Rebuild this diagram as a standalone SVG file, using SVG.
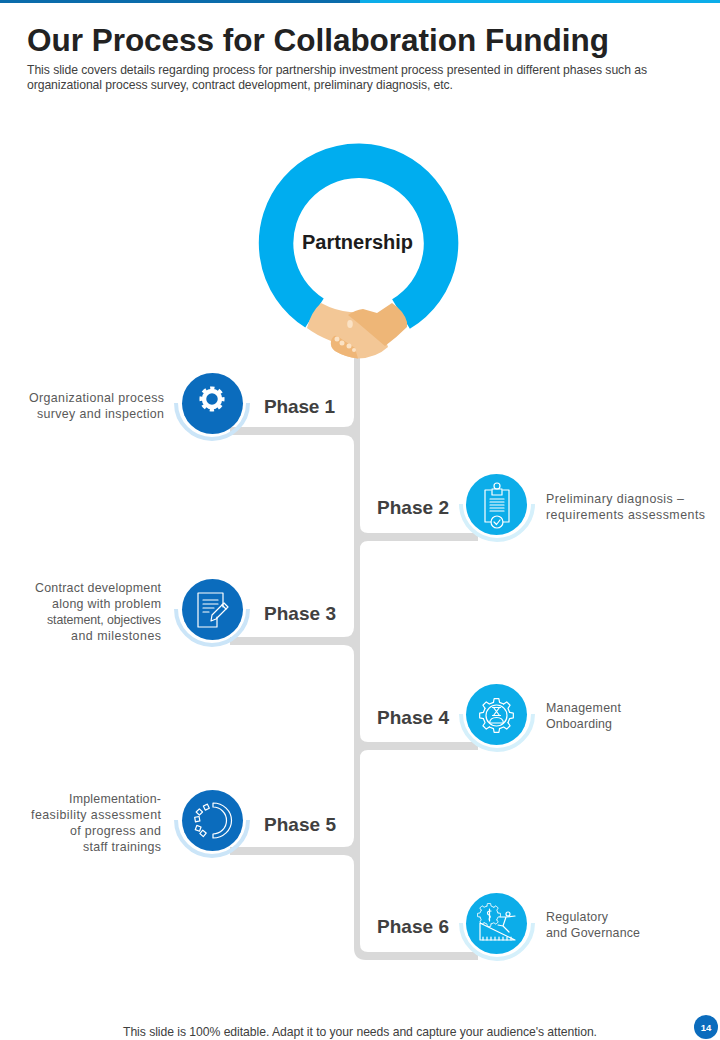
<svg xmlns="http://www.w3.org/2000/svg" width="720" height="1040" viewBox="0 0 720 1040">
<style>
text{font-family:"Liberation Sans",Arial,sans-serif}
.title{font-size:31.5px;font-weight:700;fill:#222}
.sub{font-size:12.2px;fill:#404040}
.ph{font-size:19px;font-weight:700;fill:#404040}
.d{font-size:12.400px;fill:#595959}
.conn{fill:#d9d9d9}
.arcL{fill:none;stroke:#cbe5f8;stroke-width:4}
.arcR{fill:none;stroke:#d5f0fb;stroke-width:4}
.dk{fill:#0b6cbd}
.lt{fill:#0cade9}
.ic{fill:none;stroke:#fff;stroke-width:1.2;stroke-linejoin:round;stroke-linecap:round}
</style>
<defs>
<path id="tooth" d="M-3.040 -13.150L-2.370 -16.830L2.370 -16.830L3.040 -13.150L7.150 -11.450"/>
<g id="gear">
<use href="#tooth"/>
<use href="#tooth" transform="rotate(45)"/>
<use href="#tooth" transform="rotate(90)"/>
<use href="#tooth" transform="rotate(135)"/>
<use href="#tooth" transform="rotate(180)"/>
<use href="#tooth" transform="rotate(225)"/>
<use href="#tooth" transform="rotate(270)"/>
<use href="#tooth" transform="rotate(315)"/>
</g>
</defs>
<rect x="0" y="0" width="360" height="3" fill="#0b6cab"/>
<rect x="360" y="0" width="360" height="3" fill="#0cade9"/>
<text class="title" x="27" y="51" textLength="582" lengthAdjust="spacing">Our Process for Collaboration Funding</text>
<text class="sub" x="27" y="74" textLength="620" lengthAdjust="spacing">This slide covers details regarding process for partnership investment process presented in different phases such as</text>
<text class="sub" x="27" y="89" textLength="426" lengthAdjust="spacing">organizational process survey, contract development, preliminary diagnosis, etc.</text>

<g id="connectors">
<path class="conn" d="M354 350H360V944Q360 952 368 952H478V960H366Q354 960 354 948Z"/>
<path class="conn" d="M230 427H344Q354 427 354 417V445Q354 435 344 435H230Z"/>
<path class="conn" d="M230 637H344Q354 637 354 627V655Q354 645 344 645H230Z"/>
<path class="conn" d="M230 847H344Q354 847 354 837V865Q354 855 344 855H230Z"/>
<path class="conn" d="M478 533H368Q360 533 360 525V549Q360 541 368 541H478Z"/>
<path class="conn" d="M478 742H368Q360 742 360 734V758Q360 750 368 750H478Z"/>
</g>

<g id="partnership">
<path d="M314.500 313A82.500 82.500 0 1 1 401 314" fill="none" stroke="#00adef" stroke-width="34.500"/>
<path d="M307 328Q311 312 321 303Q336 311 350 312L377 314L388 347Q376 358 358 358.500Q345 357 335 351Q330 347 331 341Q316 335 307 328Z" fill="#f3c796"/>
<path d="M392 303Q404 311 407 322V327Q396 338 385 346L358 323L348 315Q355 310 363 309L377 313Z" fill="#eeb677"/>
<path d="M331 341Q333 335 337 336L355 348L358 358.500Q345 357 335 351Q330 347 331 341Z" fill="#efb677"/>
<ellipse cx="350" cy="324" rx="2.800" ry="4" fill="#fbe2c4"/>
<circle cx="337" cy="339" r="2.500" fill="#fbe2c4"/>
<circle cx="342" cy="343" r="2.500" fill="#fbe2c4"/>
<circle cx="349" cy="346" r="2.500" fill="#fbe2c4"/>
<circle cx="354" cy="350" r="2" fill="#fbe2c4"/>
<text x="357.500" y="249" font-size="20" font-weight="700" fill="#1c1c1c" text-anchor="middle">Partnership</text>
</g>

<g id="phase1">
<path class="arcL" d="M176 403A36 36 0 0 0 248 403"/>
<circle class="dk" cx="212.500" cy="403.500" r="30.500"/>
<circle cx="212" cy="399" r="8" fill="none" stroke="#fff" stroke-width="4.500"/>
<circle cx="212" cy="399" r="10.800" fill="none" stroke="#fff" stroke-width="3.500" stroke-dasharray="4.240 4.240" stroke-dashoffset="2.120"/>
<text class="ph" x="264" y="413" textLength="71">Phase 1</text>
<text class="d" x="29" y="402" textLength="135">Organizational process</text>
<text class="d" x="37" y="418" textLength="127">survey  and inspection</text>
</g>

<g id="phase2">
<path class="arcR" d="M461 504A36 36 0 0 0 533 504"/>
<circle class="lt" cx="496.500" cy="504.500" r="30.500"/>
<g class="ic">
<path d="M491 490H485V522H491M503 490H509V522H503"/>
<rect x="492" y="489" width="10" height="6"/>
<circle cx="497" cy="486" r="3"/>
<path d="M490 499H504M490 502H504M490 505H504M490 508H504M490 511H504"/>
<circle cx="497" cy="522" r="6"/>
<path d="M494 522L496.500 524.500L500 520"/>
</g>
<text class="ph" x="377" y="514" textLength="72">Phase 2</text>
<text class="d" x="546" y="503" textLength="138">Preliminary diagnosis –</text>
<text class="d" x="546" y="519" textLength="159">requirements  assessments</text>
</g>

<g id="phase3">
<path class="arcL" d="M176 609A36 36 0 0 0 248 609"/>
<circle class="dk" cx="212.500" cy="609.500" r="30.500"/>
<g class="ic">
<path d="M217 617V627H198V593H223V607"/>
<path d="M203 600H218M203 604H218M203 608H214M203 612H209"/>
<path d="M212 615L224 603L228 607L216 619L211 621Z"/>
<path d="M222 605L226 609"/>
</g>
<text class="ph" x="264" y="620" textLength="72">Phase 3</text>
<text class="d" x="35" y="592" textLength="126">Contract development</text>
<text class="d" x="52" y="608" textLength="109">along with problem</text>
<text class="d" x="47" y="624" textLength="114">statement, objectives</text>
<text class="d" x="71" y="640" textLength="90">and milestones</text>
</g>

<g id="phase4">
<path class="arcR" d="M461 714A36 36 0 0 0 533 714"/>
<circle class="lt" cx="496.500" cy="714.500" r="30.500"/>
<g class="ic">
<use href="#gear" transform="translate(496.500 715.500)"/>
<circle cx="496.500" cy="715.500" r="10.500"/>
<path d="M492.500 707.500H500.500M492.500 715.500H500.500M493.500 707.500L496.500 711.500L499.500 707.500M493.500 715.500L496.500 711.500L499.500 715.500"/>
<path d="M489.500 723Q490 717.500 496.500 717.500Q503 717.500 503.500 723Z"/>
</g>
<text class="ph" x="377" y="724" textLength="72">Phase 4</text>
<text class="d" x="546" y="712" textLength="75">Management</text>
<text class="d" x="546" y="728" textLength="66">Onboarding</text>
</g>

<g id="phase5">
<path class="arcL" d="M176 820A36 36 0 0 0 248 820"/>
<circle class="dk" cx="212.500" cy="820.500" r="30.500"/>
<g class="ic" stroke-width="1.300">
<path d="M213 803A18.500 17.500 0 0 1 213 838L213 834A13.500 13.500 0 0 0 213 807Z"/>
<rect x="204" y="805" width="4.500" height="4.500" transform="rotate(-25 206 807)"/>
<rect x="197" y="810" width="4.500" height="4.500" transform="rotate(-45 199 812)"/>
<rect x="195" y="817" width="4.500" height="4.500" transform="rotate(-10 197 819)"/>
<rect x="196" y="826" width="4.500" height="4.500" transform="rotate(20 198 828)"/>
<rect x="201" y="831" width="4.500" height="4.500" transform="rotate(40 203 833)"/>
</g>
<text class="ph" x="264" y="831" textLength="72">Phase 5</text>
<text class="d" x="69" y="803" textLength="92">Implementation-</text>
<text class="d" x="31" y="819" textLength="130">feasibility assessment</text>
<text class="d" x="70" y="835" textLength="91">of progress and</text>
<text class="d" x="83" y="851" textLength="78">staff trainings</text>
</g>

<g id="phase6">
<path class="arcR" d="M461 923A36 36 0 0 0 533 923"/>
<circle class="lt" cx="496.500" cy="923.500" r="30.500"/>
<g class="ic">
<path d="M480 923L515 940H480Z"/>
<path d="M483 940V937M487 940V937M491 940V937M495 940V937M499 940V937M503 940V937M507 940V937M511 940V937"/>
<use href="#gear" transform="translate(489 915) scale(0.680)"/>
<path d="M491 911Q486 911 488 914.500Q492 916 489 919M489.500 909V921"/>
<circle cx="508" cy="914" r="2"/>
<path d="M500 917L506 917L515 916M506 917L503 926L509 932M503 926L498 925"/>
</g>
<text class="ph" x="377" y="933" textLength="72">Phase 6</text>
<text class="d" x="546" y="921" textLength="62">Regulatory</text>
<text class="d" x="546" y="937" textLength="94">and  Governance</text>
</g>

<text class="sub" x="123" y="1036" textLength="474" lengthAdjust="spacing">This slide is 100% editable. Adapt it to your needs and capture your audience's attention.</text>
<circle class="dk" cx="706" cy="1027" r="12"/>
<text x="706" y="1030.500" font-size="9.500" font-weight="700" fill="#fff" text-anchor="middle">14</text>
</svg>
